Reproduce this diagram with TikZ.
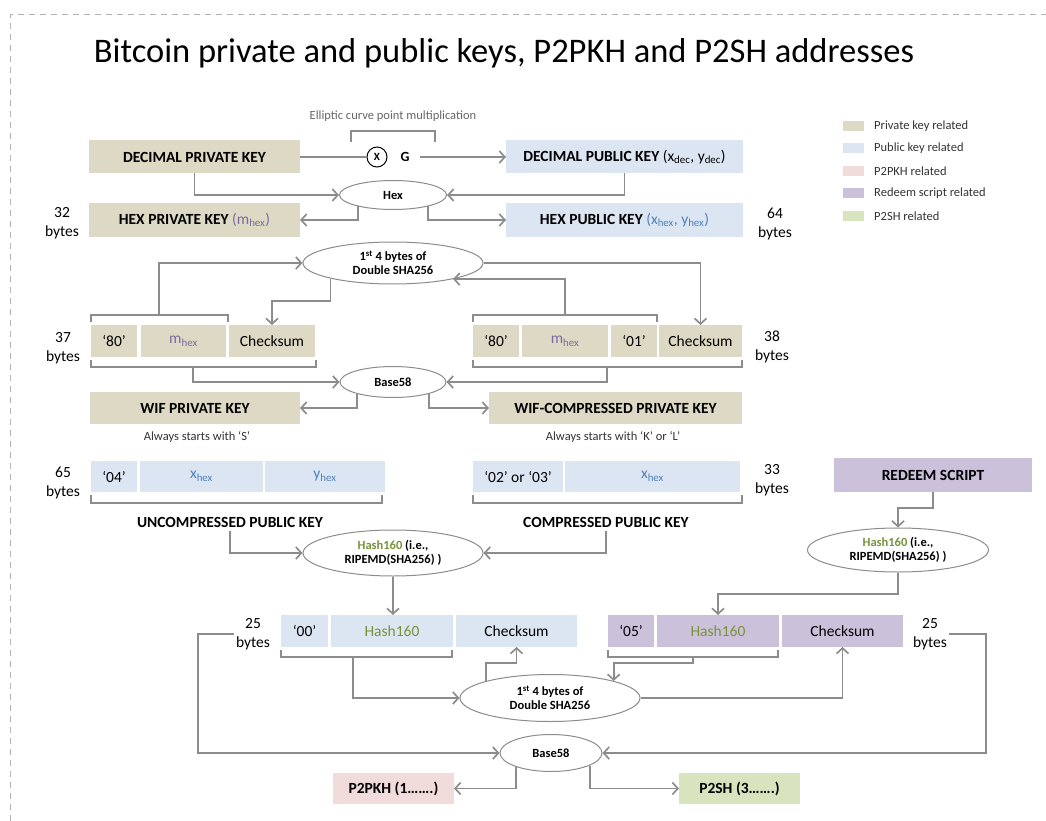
\documentclass[tikz,border=0pt]{standalone}
\usepackage{fontspec}
\setmainfont{Carlito}
\usetikzlibrary{arrows.meta,shapes.geometric}
\definecolor{privc}{HTML}{DDD9C4}
\definecolor{pubc}{HTML}{DCE6F2}
\definecolor{pkhc}{HTML}{F2DCDB}
\definecolor{redc}{HTML}{CCC1DA}
\definecolor{shc}{HTML}{D7E4BD}
\definecolor{linec}{HTML}{8C8C8C}
\definecolor{mpur}{HTML}{7E6A9E}
\definecolor{xblue}{HTML}{4F81BD}
\definecolor{hgreen}{HTML}{77933C}
\begin{document}
\begin{tikzpicture}[x=1pt,y=-1pt,
 cell/.style={rectangle, inner sep=0pt, outer sep=0pt, font=\fontsize{15.5}{18}\selectfont, text=black},
 keybox/.style={cell, font=\fontsize{15.5}{18}\selectfont\bfseries},
 sz/.style 2 args={minimum width=#1pt, minimum height=#2pt},
 oval/.style={ellipse, draw=linec, line width=1pt, fill=white, inner sep=0pt, font=\fontsize{12.5}{14}\selectfont\bfseries, align=center},
 conn/.style={draw=linec, line width=1.7pt, -{Straight Barb[length=5.5pt,width=12pt,line width=1.7pt]}},
 plainline/.style={draw=linec, line width=1.7pt},
 brk/.style={draw=linec, line width=1.4pt},
 bytes/.style={font=\fontsize{15.5}{18.5}\selectfont, align=center, inner sep=2pt},
 small/.style={font=\fontsize{12.5}{14}\selectfont, text=black!80}
]
\useasboundingbox (0,0) rectangle (1046,821);
\draw[draw=gray!60, line width=1pt, dash pattern=on 6pt off 5pt] (10,821) -- (10,15) -- (1046,15);

% title
\node[font=\fontsize{34.5}{38}\selectfont, anchor=base] (title) at (504,63) {Bitcoin private and public keys, P2PKH and P2SH addresses};

% legend
\foreach \c/\t/\y [count=\i] in {privc/Private key related/126, pubc/Public key related/148.5, pkhc/P2PKH related/171, redc/Redeem script related/193.5, shc/P2SH related/216}{
  \fill[\c] (843,\y-5) rectangle (864,\y+5);
  \node[small, anchor=west, inner sep=0pt] (leg\i) at (874,\y) {\t};
}

% top: elliptic curve multiplication
\node[small, text=black!60] (ectext) at (393,116) {Elliptic curve point multiplication};
\draw[brk] (351,142) -- (351,131) -- (435,131) -- (435,142);
\node[keybox, fill=privc, sz={211}{33}] (dpriv) at (194.5,157) {DECIMAL PRIVATE KEY};
\node[keybox, fill=pubc, sz={237}{33}] (dpub) at (624.5,157) {DECIMAL PUBLIC KEY \mdseries(x\textsubscript{dec}, y\textsubscript{dec})};
\node[circle, draw=black, line width=1pt, minimum size=20pt, inner sep=0pt, font=\fontsize{11}{12}\selectfont\bfseries] (mult) at (377,157) {X};
\node[font=\fontsize{14}{16}\selectfont\bfseries, inner sep=2pt] (g) at (405,157) {G};
\draw[plainline] (dpriv.east) -- (mult.west);
\draw[conn] ([xshift=8pt]g.east) -- (dpub.west);

\node[oval, minimum width=107pt, minimum height=29pt] (hex) at (393,195) {Hex};
\draw[conn] (dpriv.south) |- (hex.west);
\draw[conn] (dpub.south) |- (hex.east);

\node[keybox, fill=privc, sz={211}{34}] (hpriv) at (194.5,220) {HEX PRIVATE KEY \mdseries\textcolor{mpur}{(m\textsubscript{hex})}};
\node[keybox, fill=pubc, sz={237}{34}] (hpub) at (624.5,220) {HEX PUBLIC KEY \mdseries\textcolor{xblue}{(x\textsubscript{hex}, y\textsubscript{hex})}};
\draw[conn] (hex.198) |- (hpriv.east);
\draw[conn] (hex.-18) |- (hpub.west);

\node[bytes] (b32) at (62,223) {32\\bytes};
\node[bytes] (b64) at (775,224) {64\\bytes};

% double sha 1
\node[oval, minimum width=180pt, minimum height=42pt] (dsha1) at (393,263) {1\textsuperscript{st} 4 bytes of\\Double SHA256};

% WIF rows
\node[cell, fill=privc, sz={46}{32}] (L80) at (114,341) {‘80’};
\node[cell, fill=privc, sz={85}{32}, text=mpur] (Lm) at (183.5,341) {m\textsubscript{hex}};
\node[cell, fill=privc, sz={86}{32}] (Lck) at (272,341) {Checksum};
\node[cell, fill=privc, sz={46}{32}] (R80) at (496,341) {‘80’};
\node[cell, fill=privc, sz={86}{32}, text=mpur] (Rm) at (565,341) {m\textsubscript{hex}};
\node[cell, fill=privc, sz={46}{32}] (R01) at (634,341) {‘01’};
\node[cell, fill=privc, sz={83}{32}] (Rck) at (700.5,341) {Checksum};
\node[bytes] (b37) at (63,348) {37\\bytes};
\node[bytes] (b38) at (772,347) {38\\bytes};

\draw[brk] (91,322) -- (91,315) -- (228,315) -- (228,322);
\draw[brk] (473,322) -- (473,315) -- (657,315) -- (657,322);
\draw[brk] (91,360) -- (91,367) -- (316,367) -- (316,360);
\draw[brk] (473,360) -- (473,367) -- (742,367) -- (742,360);
\coordinate (lbt) at (159,315);
\coordinate (rbt) at (565,315);
\coordinate (lbb) at (193,367);
\coordinate (rbb) at (607,367);

\draw[conn] (lbt) |- (dsha1.west);
\draw[conn] (dsha1.194) -- (dsha1.194 |- 0,301) -| (Lck.north);
\draw[conn] (dsha1.east) -| (Rck.north);
\draw[conn] (rbt) |- (dsha1.-15);

\node[oval, minimum width=106pt, minimum height=31pt] (b58a) at (393,382) {Base58};
\draw[conn] (lbb) |- (b58a.west);
\draw[conn] (rbb) |- (b58a.east);

\node[keybox, fill=privc, sz={210}{32}] (wifp) at (195,408) {WIF PRIVATE KEY};
\node[keybox, fill=privc, sz={253}{32}] (wifc) at (615.5,408) {WIF-COMPRESSED PRIVATE KEY};
\draw[conn] (b58a.198) |- (wifp.east);
\draw[conn] (b58a.-18) |- (wifc.west);
\node[small] (alwS) at (197,437) {Always starts with ‘S’};
\node[small] (alwK) at (613,437) {Always starts with ‘K’ or ‘L’};

% public keys
\node[cell, fill=pubc, sz={46}{31}] (U04) at (114,476.5) {‘04’};
\node[cell, fill=pubc, sz={123}{31}, text=xblue] (Ux) at (201.5,476.5) {x\textsubscript{hex}};
\node[cell, fill=pubc, sz={120}{31}, text=xblue] (Uy) at (325,476.5) {y\textsubscript{hex}};
\node[cell, fill=pubc, sz={90}{31}] (C02) at (518,476.5) {‘02’ or ‘03’};
\node[cell, fill=pubc, sz={175}{31}, text=xblue] (Cx) at (652.5,476.5) {x\textsubscript{hex}};
\node[bytes] (b65) at (63,483) {65\\bytes};
\node[bytes] (b33) at (772,480) {33\\bytes};
\draw[brk] (91,495) -- (91,503) -- (382,503) -- (382,495);
\draw[brk] (473,495) -- (473,503) -- (742,503) -- (742,495);

\node[font=\fontsize{15.5}{18}\selectfont\bfseries] (ulab) at (230,522) {UNCOMPRESSED PUBLIC KEY};
\node[font=\fontsize{15.5}{18}\selectfont\bfseries] (clab) at (606,522) {COMPRESSED PUBLIC KEY};

\node[keybox, fill=redc, sz={198}{34}] (redeem) at (933,475) {REDEEM SCRIPT};

\node[oval, minimum width=180pt, minimum height=46pt] (h160a) at (393,553) {\textcolor{hgreen}{Hash160} (i.e.,\\RIPEMD(SHA256) )};
\node[oval, minimum width=181pt, minimum height=44pt] (h160b) at (898,550) {\textcolor{hgreen}{Hash160} (i.e.,\\RIPEMD(SHA256) )};
\draw[conn] (ulab.south) |- (h160a.west);
\draw[conn] (clab.south) |- (h160a.east);
\draw[conn] (redeem.south) -- (redeem.south |- 0,508) -| (h160b.north);

% address rows
\node[cell, fill=pubc, sz={47}{32}] (P00) at (304.5,631) {‘00’};
\node[cell, fill=pubc, sz={122}{32}, text=hgreen] (Ph) at (392,631) {Hash160};
\node[cell, fill=pubc, sz={121}{32}] (Pck) at (516.5,631) {Checksum};
\node[cell, fill=redc, sz={46}{32}] (S05) at (631,631) {‘05’};
\node[cell, fill=redc, sz={122}{32}, text=hgreen] (Sh) at (718,631) {Hash160};
\node[cell, fill=redc, sz={121}{32}] (Sck) at (842.5,631) {Checksum};
\node[bytes] (b25l) at (253,634) {25\\bytes};
\node[bytes] (b25r) at (930,634) {25\\bytes};

\draw[conn] (h160a.south) -- (h160a.south |- Ph.north);
\draw[conn] (h160b.south) -- (h160b.south |- 0,594) -| (Sh.north);

\draw[brk] (281,650) -- (281,657) -- (452,657) -- (452,650);
\draw[brk] (608,650) -- (608,657) -- (778,657) -- (778,650);
\coordinate (pbb) at (353,657);
\coordinate (sbb) at (693,657);

\node[oval, minimum width=180pt, minimum height=47pt] (dsha2) at (550,698) {1\textsuperscript{st} 4 bytes of\\Double SHA256};
\draw[conn] (pbb) |- (dsha2.west);
\draw[conn] (dsha2.165) -- (dsha2.165 |- 0,663) -| (Pck.south);
\draw[conn] (sbb) -- (sbb |- 0,663) -| (dsha2.15);
\draw[conn] (dsha2.east) -| (Sck.south);

\node[oval, minimum width=102pt, minimum height=37pt] (b58b) at (551,753) {Base58};
\draw[conn] (b25l.west) -- ++(-36,0) |- (b58b.west);
\draw[conn] (b25r.east) -- ++(37,0) |- (b58b.east);

\node[keybox, fill=pkhc, sz={121}{31}] (p2pkh) at (393.5,788.5) {P2PKH (1…….)};
\node[keybox, fill=shc, sz={121}{31}] (p2sh) at (739.5,788.5) {P2SH (3…….)};
\draw[conn] (b58b.202) |- (p2pkh.east);
\draw[conn] (b58b.-18) |- (p2sh.west);
\end{tikzpicture}
\end{document}
